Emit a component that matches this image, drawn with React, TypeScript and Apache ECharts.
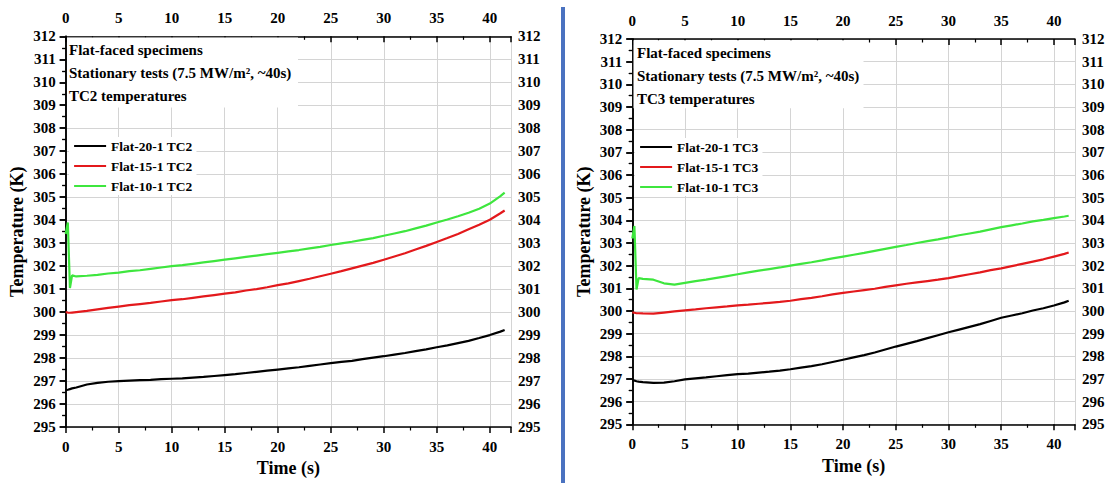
import React, { useEffect, useRef } from "react";
import * as echarts from "echarts";

const TIME = [0, 0.2, 0.4, 0.6, 1, 2, 3, 4, 5, 6, 7, 8, 9, 10, 11, 12, 13, 14, 15, 16, 17, 18, 19, 20, 21, 22, 23, 24, 25, 26, 27, 28, 29, 30, 31, 32, 33, 34, 35, 36, 37, 38, 39, 40, 41, 41.4];

const TC2_FLAT20 = [296.6, 296.62, 296.65, 296.68, 296.72, 296.85, 296.92, 296.97, 297.0, 297.02, 297.04, 297.05, 297.08, 297.1, 297.12, 297.15, 297.18, 297.22, 297.26, 297.3, 297.35, 297.4, 297.45, 297.5, 297.55, 297.6, 297.66, 297.72, 297.78, 297.83, 297.88, 297.95, 298.02, 298.08, 298.15, 298.22, 298.3, 298.38, 298.47, 298.55, 298.65, 298.75, 298.87, 299.0, 299.15, 299.22];
const TC2_FLAT15 = [300.0, 299.98, 299.97, 299.98, 300.0, 300.05, 300.12, 300.18, 300.24, 300.3, 300.35, 300.4, 300.46, 300.52, 300.56, 300.62, 300.68, 300.74, 300.8, 300.86, 300.94, 301.0, 301.08, 301.17, 301.25, 301.35, 301.45, 301.56, 301.67, 301.78, 301.9, 302.02, 302.14, 302.28, 302.42, 302.56, 302.72, 302.88, 303.05, 303.22, 303.4, 303.6, 303.8, 304.02, 304.3, 304.42];
const TC2_FLAT10 = [303.4, 303.9, 301.05, 301.6, 301.55, 301.58, 301.62, 301.68, 301.72, 301.78, 301.82, 301.88, 301.94, 302.0, 302.04, 302.1, 302.16, 302.22, 302.28, 302.34, 302.4, 302.46, 302.52, 302.58, 302.64, 302.7, 302.77, 302.84, 302.92, 302.99, 303.06, 303.14, 303.22, 303.32, 303.42, 303.52, 303.64, 303.76, 303.9, 304.03, 304.17, 304.32, 304.5, 304.72, 305.05, 305.2];

const TC3_FLAT20 = [296.95, 296.93, 296.9, 296.88, 296.86, 296.83, 296.84, 296.9, 296.98, 297.03, 297.07, 297.12, 297.17, 297.21, 297.24, 297.28, 297.32, 297.37, 297.43, 297.5, 297.57, 297.65, 297.75, 297.85, 297.95, 298.05, 298.17, 298.3, 298.43, 298.55, 298.67, 298.8, 298.93, 299.06, 299.18, 299.3, 299.42, 299.56, 299.7, 299.8, 299.9, 300.02, 300.12, 300.24, 300.38, 300.45];
const TC3_FLAT15 = [299.94, 299.92, 299.9, 299.9, 299.89, 299.88, 299.93, 299.98, 300.03, 300.07, 300.12, 300.16, 300.2, 300.25, 300.28, 300.32, 300.36, 300.4, 300.45, 300.52, 300.58, 300.65, 300.73, 300.8, 300.86, 300.92, 300.98, 301.06, 301.13, 301.2, 301.26, 301.32, 301.38, 301.45, 301.54, 301.62, 301.7, 301.8, 301.88, 301.98, 302.08, 302.18, 302.28, 302.4, 302.52, 302.58];
const TC3_FLAT10 = [303.2, 303.75, 300.95, 301.45, 301.42, 301.38, 301.22, 301.16, 301.24, 301.32, 301.38, 301.46, 301.54, 301.62, 301.7, 301.78, 301.85, 301.92, 302.0, 302.08, 302.15, 302.23, 302.32, 302.4, 302.48, 302.56, 302.65, 302.74, 302.83, 302.91, 303.0, 303.08, 303.16, 303.25, 303.34, 303.42, 303.5, 303.6, 303.7, 303.78, 303.86, 303.95, 304.02, 304.1, 304.17, 304.2];

const NAMES_TC2 = ["Flat-20-1 TC2", "Flat-15-1 TC2", "Flat-10-1 TC2"];
const NAMES_TC3 = ["Flat-20-1 TC3", "Flat-15-1 TC3", "Flat-10-1 TC3"];
const NOTE_LINES_TC2 = ["Flat-faced specimens", "Stationary tests (7.5 MW/m², ~40s)", "TC2 temperatures"];
const NOTE_LINES_TC3 = ["Flat-faced specimens", "Stationary tests (7.5 MW/m², ~40s)", "TC3 temperatures"];
const COLORS = ["#000000", "#e3191c", "#3ee63e"];

const FONT = '"Liberation Serif", "Times New Roman", serif';

export default function App() {
  const ref = useRef<HTMLDivElement>(null);
  useEffect(() => {
    if (!ref.current) return;
    const chart = echarts.init(ref.current, undefined, { renderer: "svg" });
    const pair = (arr: number[]) => TIME.map((t, i) => [t, arr[i]]);

    const label = { color: "#000", fontFamily: FONT, fontWeight: "bold", fontSize: 15 };
    const axisLine = { show: true, lineStyle: { color: "#000", width: 1.5 } };

    const xAxis = (grid: number, pos: "bottom" | "top", withName: boolean, nameGap: number) => ({
      type: "value",
      gridIndex: grid,
      position: pos,
      min: 0,
      max: 42,
      interval: 5,
      axisLine,
      axisTick: { show: true, inside: pos === "top", length: 6, lineStyle: { color: "#000", width: 1.5 } },
      minorTick: { show: true, splitNumber: 2, length: 3.5, lineStyle: { color: "#000", width: 1.2 } },
      axisLabel: { ...label, margin: pos === "top" ? 11 : 12, showMaxLabel: false },
      splitLine: { show: pos === "bottom", lineStyle: { color: "#d4d4d4", width: 1 } },
      name: withName ? "Time (s)" : "",
      nameLocation: "middle",
      nameGap,
      nameTextStyle: { color: "#000", fontFamily: FONT, fontWeight: "bold", fontSize: 18 },
    });
    const yAxis = (grid: number, pos: "left" | "right", withName: boolean, nameGap: number) => ({
      type: "value",
      gridIndex: grid,
      position: pos,
      min: 295,
      max: 312,
      interval: 1,
      axisLine,
      axisTick: { show: true, inside: pos === "right", length: 6, lineStyle: { color: "#000", width: 1.5 } },
      minorTick: { show: true, splitNumber: 2, length: 3.5, lineStyle: { color: "#000", width: 1.2 } },
      axisLabel: { ...label, margin: pos === "left" ? 10 : 7 },
      splitLine: { show: pos === "left", lineStyle: { color: "#d4d4d4", width: 1 } },
      name: withName ? "Temperature (K)" : "",
      nameLocation: "middle",
      nameGap,
      nameTextStyle: { color: "#000", fontFamily: FONT, fontWeight: "bold", fontSize: 18 },
    });

    const mkSeries = (names: string[], arrs: number[][], idx: number) =>
      names.map((n, k) => ({
        name: n,
        type: "line",
        xAxisIndex: idx,
        yAxisIndex: idx,
        data: pair(arrs[k]),
        symbol: "none",
        lineStyle: { color: COLORS[k], width: 2.2 },
        itemStyle: { color: COLORS[k] },
        z: 3 + (2 - k),
      }));

    const legend = (names: string[], left: number, top: number) => ({
      data: names,
      left,
      top,
      orient: "vertical",
      itemWidth: 32,
      itemHeight: 12,
      itemGap: 6,
      padding: [2, 4, 2, 4],
      backgroundColor: "#fff",
      itemStyle: { opacity: 0 },
      lineStyle: { width: 2.2 },
      textStyle: { color: "#000", fontFamily: FONT, fontWeight: "bold", fontSize: 13.5 },
    });

    const noteGroup = (lines: string[], x: number, y0: number, bx: number, by: number, bw: number, bh: number) => [
      { type: "rect", z: 10, shape: { x: bx, y: by, width: bw, height: bh }, style: { fill: "#fff" } },
      ...lines.map((s, i) => ({
        type: "text",
        z: 11,
        x,
        y: y0 + i * 23,
        style: { text: s, fill: "#000", font: `bold 15px ${FONT}`, textVerticalAlign: "middle" },
      })),
    ];

    chart.setOption({
      animation: false,
      backgroundColor: "#fff",
      grid: [
        { left: 65.7, top: 36.3, right: 1112 - 511, bottom: 483 - 427, containLabel: false },
        { left: 632.3, top: 39, right: 1112 - 1075, bottom: 483 - 424.3, containLabel: false },
      ],
      xAxis: [xAxis(0, "bottom", true, 30), xAxis(0, "top", false, 0), xAxis(1, "bottom", true, 33), xAxis(1, "top", false, 0)],
      yAxis: [yAxis(0, "left", true, 40), yAxis(0, "right", false, 0), yAxis(1, "left", true, 39), yAxis(1, "right", false, 0)],
      legend: [legend(NAMES_TC2, 69, 137), legend(NAMES_TC3, 635, 138)],
      series: [
        ...mkSeries(NAMES_TC2, [TC2_FLAT20, TC2_FLAT15, TC2_FLAT10], 0),
        ...mkSeries(NAMES_TC3, [TC3_FLAT20, TC3_FLAT15, TC3_FLAT10], 2),
      ],
      graphic: [
        ...noteGroup(NOTE_LINES_TC2, 69, 50, 67, 37.5, 231, 70),
        ...noteGroup(NOTE_LINES_TC3, 637, 53, 633.5, 40.2, 230, 68),
        { type: "rect", z: 20, shape: { x: 561, y: 7, width: 4, height: 476 }, style: { fill: "#4a72c0" } },
      ],
    });
    return () => chart.dispose();
  }, []);
  return <div ref={ref} style={{ position: "fixed", left: 0, top: 0, width: 1112, height: 483 }} />;
}
